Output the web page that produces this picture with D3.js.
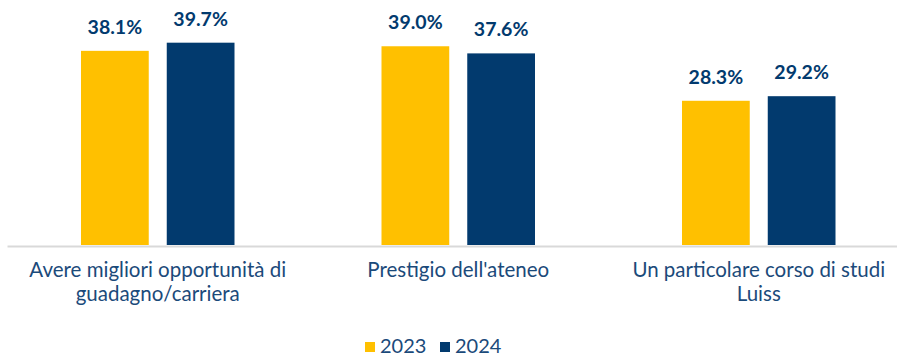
<!DOCTYPE html>
<html>
<head>
<meta charset="utf-8">
<script src="https://cdn.jsdelivr.net/npm/d3@7"></script>
<style>
  html, body { margin: 0; padding: 0; background: #ffffff; }
  svg { display: block; }
</style>
</head>
<body>
<svg id="chart" width="897" height="358"></svg>
<script>
// Motivi della scelta: confronto 2023 / 2024
const categories = [
  ["Avere migliori opportunità di", "guadagno/carriera"],
  ["Prestigio dell'ateneo"],
  ["Un particolare corso di studi", "Luiss"]
];
const seriesNames = ["2023", "2024"];
const values2023 = [38.1, 39.0, 28.3];
const values2024 = [39.7, 37.6, 29.2];
const colors = ["#FFC000", "#023A6E"];

const W = 897, H = 358;
const svg = d3.select("#chart");

const baseline = 245;
const x0 = d3.scaleBand()
  .domain(d3.range(categories.length))
  .range([7.5, 909])
  .paddingInner(0)
  .paddingOuter(0);

const x1 = d3.scaleBand()
  .domain(seriesNames)
  .range([73.5, 227])
  .paddingInner(0.21);

const y = d3.scaleLinear()
  .domain([0, 40])
  .range([baseline, baseline - 40 * 5.096]);

const series = [values2023, values2024];

// axis baseline
svg.append("line")
  .attr("x1", 7.5).attr("x2", W)
  .attr("y1", baseline + 1.5).attr("y2", baseline + 1.5)
  .attr("stroke", "#d9d9d9")
  .attr("stroke-width", 2);

const groups = svg.selectAll("g.cat")
  .data(categories)
  .join("g")
  .attr("class", "cat")
  .attr("transform", (d, i) => `translate(${x0(i)},0)`);

groups.each(function (cat, i) {
  const g = d3.select(this);
  seriesNames.forEach((s, k) => {
    const v = series[k][i];
    g.append("rect")
      .attr("x", x1(s))
      .attr("y", y(v))
      .attr("width", x1.bandwidth())
      .attr("height", baseline - y(v))
      .attr("fill", colors[k]);
    g.append("text")
      .attr("x", x1(s) + x1.bandwidth() / 2)
      .attr("y", y(v) - 17)
      .attr("text-anchor", "middle")
      .attr("font-family", "Lato, 'Open Sans', sans-serif")
      .attr("font-weight", "bold")
      .attr("font-size", 19.5)
      .attr("fill", "#023A6E")
      .text(v.toFixed(1) + "%");
  });
  const lbl = g.append("text")
    .attr("text-anchor", "middle")
    .attr("font-family", "Lato, 'Open Sans', sans-serif")
    .attr("font-size", 20.5)
    .attr("fill", "#1B4A7A");
  cat.forEach((line, j) => {
    lbl.append("tspan")
      .attr("x", x0.bandwidth() / 2)
      .attr("y", 277 + j * 24)
      .text(line);
  });
});

// legend
const legend = svg.append("g");
const legendItems = [
  { name: seriesNames[0], color: colors[0], x: 365 },
  { name: seriesNames[1], color: colors[1], x: 440 }
];
legendItems.forEach(it => {
  legend.append("rect")
    .attr("x", it.x).attr("y", 342)
    .attr("width", 10).attr("height", 10)
    .attr("fill", it.color);
  legend.append("text")
    .attr("x", it.x + 15).attr("y", 353)
    .attr("font-family", "Lato, 'Open Sans', sans-serif")
    .attr("font-size", 20)
    .attr("fill", "#1B4A7A")
    .text(it.name);
});
</script>
</body>
</html>
